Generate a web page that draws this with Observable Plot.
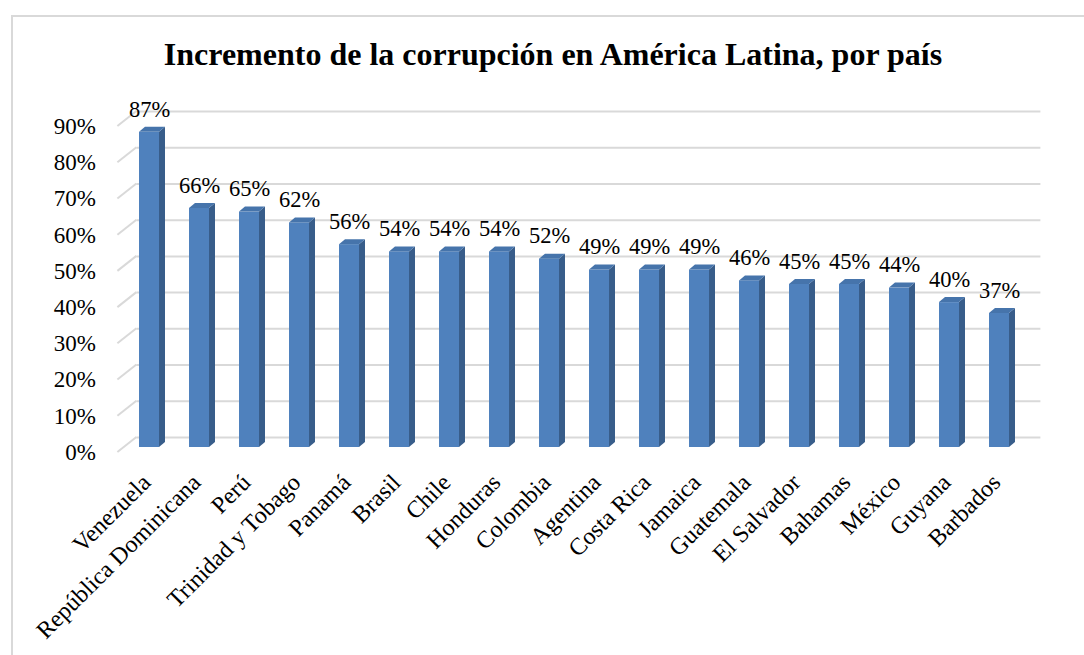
<!DOCTYPE html>
<html><head><meta charset="utf-8">
<script src="https://cdn.jsdelivr.net/npm/d3@7"></script>
<script src="https://cdn.jsdelivr.net/npm/@observablehq/plot@0.6"></script>
<style>
html,body{margin:0;padding:0;background:#fff;overflow:hidden;}
#wrap{position:relative;width:1084px;height:655px;overflow:hidden;background:#fff;}
#frame{position:absolute;left:11px;top:15px;width:1120px;height:720px;border:2px solid #d9d9d9;box-sizing:border-box;}
#title{position:absolute;left:0;top:36px;width:1106px;text-align:center;font-family:"Liberation Serif","Times New Roman",serif;font-weight:bold;font-size:32px;line-height:normal;color:#000;white-space:nowrap;}
#chart{position:absolute;left:0;top:80px;}
#chart svg, #chart svg text{font-family:"Liberation Serif","Times New Roman",serif !important;}
</style>
</head><body>
<div id="wrap">
  <div id="frame"></div>
  <div id="title">Incremento de la corrupción en América Latina, por país</div>
  <div id="chart"></div>
</div>
<script>
const countries = ["Venezuela","República Dominicana","Perú","Trinidad y Tobago","Panamá","Brasil","Chile","Honduras","Colombia","Agentina","Costa Rica","Jamaica","Guatemala","El Salvador","Bahamas","México","Guyana","Barbados"];
const values = [87,66,65,62,56,54,54,54,52,49,49,49,46,45,45,44,40,37];
const yTickValues = [0,10,20,30,40,50,60,70,80,90];

const data = countries.map((c, i) => ({country: c, value: values[i] / 100}));
const yTicks = yTickValues.map(t => t / 100);

const SERIF = "Liberation Serif";
const FRONT = "#4f81bd", SIDE = "#385d8a", TOP = "#4674ab", GRID = "#d9d9d9";
const DEPTH_X = 6, DEPTH_Y = 5;      // bar 3D depth (px)
const WALL_DX = 14, WALL_DY = -10;   // back wall offset (px)

function barFaces(index, scales) {
  const {x, y} = scales;
  const bw = x.bandwidth();
  const g = d3.create("svg:g");
  for (const d of data) {
    const x1 = x(d.country), x2 = x1 + bw, yt = y(d.value), yb = y(0);
    g.append("polygon")
      .attr("points", [[x2, yt], [x2 + DEPTH_X, yt - DEPTH_Y], [x2 + DEPTH_X, yb - DEPTH_Y], [x2, yb]].join(" "))
      .attr("fill", SIDE);
    g.append("polygon")
      .attr("points", [[x1, yt], [x1 + DEPTH_X, yt - DEPTH_Y], [x2 + DEPTH_X, yt - DEPTH_Y], [x2, yt]].join(" "))
      .attr("fill", TOP);
  }
  return g.node();
}

function floorDiagonals(index, scales, values, dims) {
  const {y} = scales;
  const mL = dims.marginLeft;
  const g = d3.create("svg:g").attr("stroke", GRID).attr("stroke-width", 2);
  for (const t of yTicks) {
    g.append("line")
      .attr("x1", mL - 5).attr("y1", y(t) + 5)
      .attr("x2", mL + WALL_DX).attr("y2", y(t) + WALL_DY);
  }
  return g.node();
}

const chart = Plot.plot({
  width: 1084,
  height: 575,
  marginLeft: 122.4,
  marginRight: 57.6,
  marginTop: 41,
  marginBottom: 208,
  style: {fontFamily: SERIF, fontSize: "22px", color: "#000", background: "transparent"},
  x: {domain: countries, paddingInner: 0.6, paddingOuter: 0.3, label: null},
  y: {domain: [0, 0.9], label: null},
  marks: [
    Plot.ruleY(yTicks, {stroke: GRID, strokeWidth: 2, dx: WALL_DX, dy: WALL_DY}),
    floorDiagonals,
    Plot.axisY(yTicks, {tickSize: 0, tickPadding: 27, dy: 5, tickFormat: d => Math.round(d * 100) + "%", fontSize: 23, fontFamily: SERIF, label: null}),
    Plot.axisX({tickSize: 0, tickPadding: 31, dx: -3, tickRotate: -45, fontSize: 24, fontFamily: SERIF, label: null}),
    Plot.barY(data, {x: "country", y: "value", fill: FRONT}),
    barFaces,
    Plot.text(data, {x: "country", y: "value", text: d => Math.round(d.value * 100) + "%", dy: -23, fontSize: 22.5, fontFamily: SERIF, fill: "#000"})
  ]
});
document.getElementById("chart").appendChild(chart);
</script>
</body></html>
